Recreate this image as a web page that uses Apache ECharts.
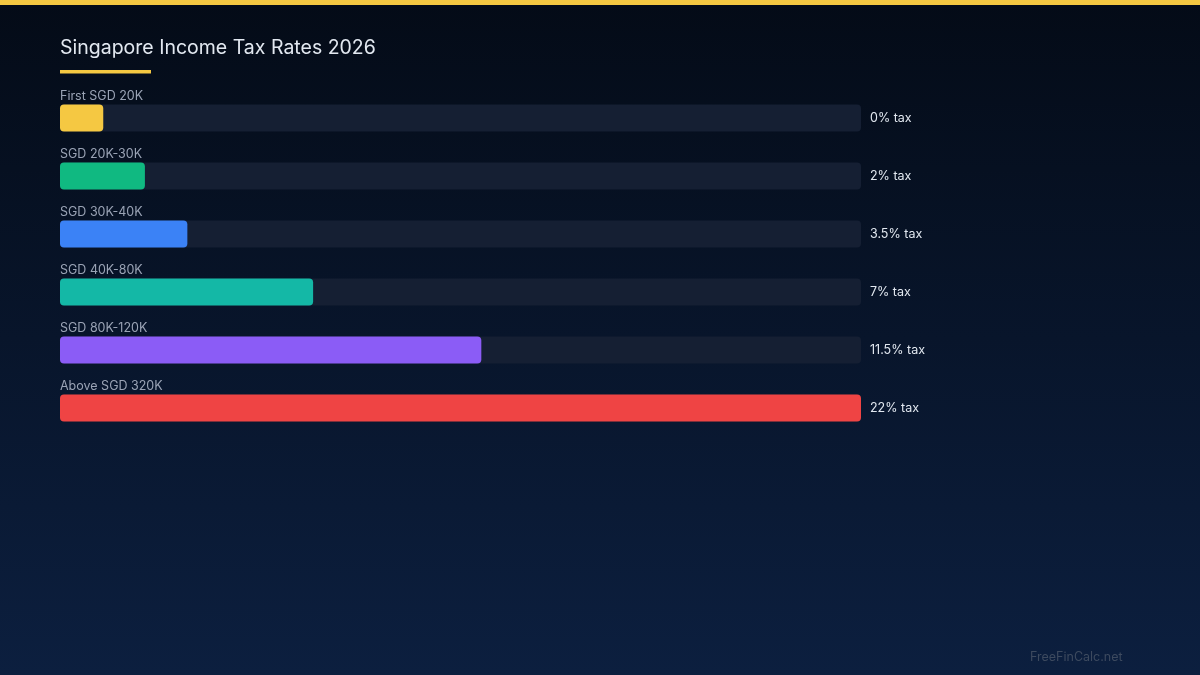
<!DOCTYPE html>
<html>
<head>
<meta charset="utf-8">
<script src="https://cdn.jsdelivr.net/npm/echarts@6/dist/echarts.min.js"></script>
<style>
html,body{margin:0;padding:0;width:1200px;height:675px;overflow:hidden;background:#060e1c;}
#chart{width:1200px;height:675px;}
</style>
</head>
<body>
<div id="chart"></div>
<script>
// Data
var categories = ['First SGD 20K', 'SGD 20K-30K', 'SGD 30K-40K', 'SGD 40K-80K', 'SGD 80K-120K', 'Above SGD 320K'];
var rateLabels = ['0% tax', '2% tax', '3.5% tax', '7% tax', '11.5% tax', '22% tax'];
// bar length as a share of the track (0-100)
var barLengths = [5.4, 10.6, 15.9, 31.6, 52.6, 100];
var trackLengths = [100, 100, 100, 100, 100, 100];
var barColors = ['#f5c842', '#10b981', '#3b82f6', '#14b8a6', '#8b5cf6', '#ef4444'];

var FONT = 'Inter, "Noto Sans", sans-serif';

var chart = echarts.init(document.getElementById('chart'), null, {renderer: 'canvas'});
chart.setOption({
  backgroundColor: {
    type: 'linear', x: 0, y: 0, x2: 0, y2: 1,
    colorStops: [{offset: 0, color: '#040b17'}, {offset: 1, color: '#0c1f3f'}]
  },
  animation: false,
  title: {
    text: 'Singapore Income Tax Rates 2026',
    left: 60, top: 38,
    padding: 0,
    textStyle: {color: '#e2e8f0', fontSize: 19.5, fontWeight: 'normal', fontFamily: FONT}
  },
  grid: {left: 60, top: 89, width: 801, height: 348, containLabel: false},
  xAxis: {type: 'value', min: 0, max: 100, show: false},
  yAxis: {
    type: 'category', data: categories, inverse: true,
    axisLine: {show: false}, axisTick: {show: false}, splitLine: {show: false},
    axisLabel: {
      inside: true, align: 'left', verticalAlign: 'bottom',
      margin: 0, padding: [0, 0, 15, 0],
      color: '#9aa3b5', fontSize: 12.5, fontFamily: FONT
    }
  },
  series: [
    {
      type: 'bar', data: trackLengths, barWidth: 27,
      itemStyle: {color: '#151f33', borderRadius: 4},
      silent: true,
      label: {
        show: true, position: 'right', distance: 9,
        formatter: function (p) { return rateLabels[p.dataIndex]; },
        color: '#e2e8f0', fontSize: 12.5, fontFamily: FONT
      },
      z: 1
    },
    {
      type: 'bar', data: barLengths.map(function (v, i) {
        return {value: v, itemStyle: {color: barColors[i]}};
      }),
      barWidth: 27, barGap: '-100%',
      itemStyle: {borderRadius: 4},
      z: 2
    }
  ],
  graphic: [
    {type: 'rect', left: 0, top: 0, shape: {width: 1200, height: 5}, style: {fill: '#f5c842'}},
    {type: 'rect', left: 60, top: 70, shape: {width: 91, height: 3.5}, style: {fill: '#f5c842'}},
    {type: 'text', left: 1030, top: 651, style: {text: 'FreeFinCalc.net', fill: '#3d4a5f', font: '12.5px ' + FONT}}
  ]
});
</script>
</body>
</html>
